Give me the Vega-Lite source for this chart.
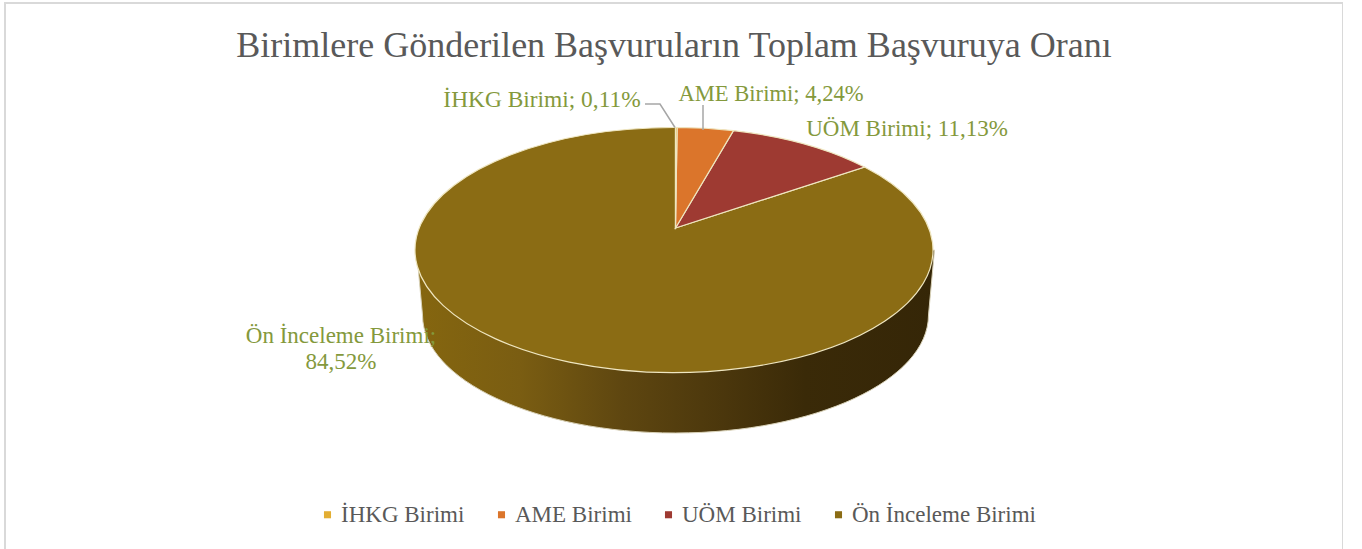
{"$schema":"https://vega.github.io/schema/vega-lite/v6.json","width":1338,"height":547,"padding":{"left":5,"top":3,"right":0,"bottom":0},"autosize":{"type":"none"},"background":"white","view":{"stroke":"#D9D9D9","strokeWidth":2},"config":{"font":"Liberation Serif"},"title":{"text":"Birimlere Gönderilen Başvuruların Toplam Başvuruya Oranı","anchor":"middle","orient":"top","offset":-62,"fontSize":36,"font":"Liberation Serif","fontWeight":"normal","color":"#595959"},"data":{"values":[{"category":"İHKG Birimi","value":0.11,"label":"İHKG Birimi; 0,11%"},{"category":"AME Birimi","value":4.24,"label":"AME Birimi; 4,24%"},{"category":"UÖM Birimi","value":11.13,"label":"UÖM Birimi; 11,13%"},{"category":"Ön İnceleme Birimi","value":84.52,"label":"Ön İnceleme Birimi;\n84,52%"}]},"layer":[{"transform":[{"filter":"datum.category === 'Ön İnceleme Birimi'"}],"mark":{"type":"point","filled":true,"size":4,"opacity":1,"xOffset":1.5,"yOffset":-48.5,"shape":"M-259,22 L-253,87 A253,118 0 0 0 253,87 L259,22 Z","stroke":"#D9D2B8","strokeWidth":1,"fill":{"gradient":"linear","x1":0,"y1":0,"x2":1,"y2":0,"stops":[{"offset":0,"color":"#85660F"},{"offset":0.2,"color":"#7A5D12"},{"offset":0.4,"color":"#5E4610"},{"offset":0.6,"color":"#4A360C"},{"offset":0.75,"color":"#3A2A08"},{"offset":1,"color":"#352607"}]}},"encoding":{}},{"transform":[{"filter":"datum.category === 'Ön İnceleme Birimi'"}],"mark":{"type":"point","filled":true,"size":4,"opacity":1,"xOffset":1.5,"yOffset":-48.5,"stroke":"#EFE6C0","strokeWidth":1.2,"shape":"M0,0 L189,-61 A259,122.5 0 1 1 0,-100.5 Z"},"encoding":{"color":{"field":"category","type":"nominal","sort":null,"scale":{"domain":["İHKG Birimi","AME Birimi","UÖM Birimi","Ön İnceleme Birimi"],"range":["#E3AE33","#DB752B","#9E3A32","#8B6C14"]},"legend":{"title":null,"orient":"none","legendX":311,"legendY":500,"direction":"horizontal","columns":4,"columnPadding":25,"symbolType":"square","symbolSize":50,"symbolStrokeWidth":0,"labelFont":"Liberation Serif","labelFontSize":23,"labelColor":"#595959","labelOffset":2,"labelLimit":400,"padding":0}}}},{"transform":[{"filter":"datum.category === 'UÖM Birimi'"}],"mark":{"type":"point","filled":true,"size":4,"opacity":1,"xOffset":1.5,"yOffset":-48.5,"stroke":"#EFE6C0","strokeWidth":1.2,"shape":"M0,0 L58,-97.4 A259,122.5 0 0 1 189,-61 Z"},"encoding":{"color":{"field":"category","type":"nominal","sort":null,"legend":null}}},{"transform":[{"filter":"datum.category === 'AME Birimi'"}],"mark":{"type":"point","filled":true,"size":4,"opacity":1,"xOffset":1.5,"yOffset":-48.5,"stroke":"#EFE6C0","strokeWidth":1.2,"shape":"M0,0 L1.6,-100.5 A259,122.5 0 0 1 58,-97.4 Z"},"encoding":{"color":{"field":"category","type":"nominal","sort":null,"legend":null}}},{"transform":[{"filter":"datum.category === 'İHKG Birimi'"}],"mark":{"type":"point","filled":true,"size":4,"opacity":1,"xOffset":1.5,"yOffset":-48.5,"stroke":"#EFE6C0","strokeWidth":1.2,"shape":"M0,0 L0,-100.5 A259,122.5 0 0 1 1.6,-100.5 Z"},"encoding":{"color":{"field":"category","type":"nominal","sort":null,"legend":null}}},{"transform":[{"filter":"datum.category === 'İHKG Birimi'"}],"mark":{"type":"point","filled":false,"size":4,"opacity":1,"xOffset":1,"yOffset":-48.5,"shape":"M-30,-124 L-15,-124 L0,-100.5","stroke":"#A6A6A6","strokeWidth":1.5},"encoding":{}},{"transform":[{"filter":"datum.category === 'AME Birimi'"}],"mark":{"type":"point","filled":false,"size":4,"opacity":1,"xOffset":1,"yOffset":-48.5,"shape":"M28,-123 L28,-98","stroke":"#A6A6A6","strokeWidth":1.5},"encoding":{}},{"transform":[{"filter":"datum.category === 'İHKG Birimi'"}],"mark":{"type":"text","font":"Liberation Serif","fontSize":23.4,"color":"#84993C","align":"center","baseline":"middle","xOffset":-132,"yOffset":-176.5},"encoding":{"text":{"field":"label"}}},{"transform":[{"filter":"datum.category === 'AME Birimi'"}],"mark":{"type":"text","font":"Liberation Serif","fontSize":22.6,"color":"#84993C","align":"center","baseline":"middle","xOffset":97,"yOffset":-182.5},"encoding":{"text":{"field":"label"}}},{"transform":[{"filter":"datum.category === 'UÖM Birimi'"}],"mark":{"type":"text","font":"Liberation Serif","fontSize":23,"color":"#84993C","align":"center","baseline":"middle","xOffset":233,"yOffset":-147.5},"encoding":{"text":{"field":"label"}}},{"transform":[{"filter":"datum.category === 'Ön İnceleme Birimi'"}],"mark":{"type":"text","font":"Liberation Serif","fontSize":23,"color":"#84993C","align":"center","baseline":"middle","lineBreak":"\n","lineHeight":26,"xOffset":-333,"yOffset":59.5},"encoding":{"text":{"field":"label"}}}]}
